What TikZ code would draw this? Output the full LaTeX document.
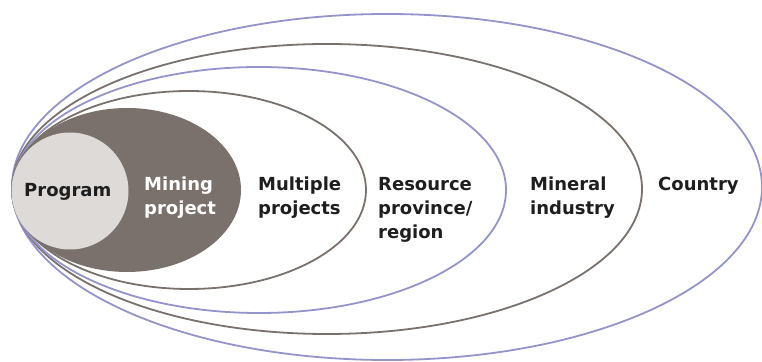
\documentclass[tikz,border=0pt]{standalone}
\usepackage{fontspec}
\setmainfont{DejaVu Sans}
\usetikzlibrary{shapes.geometric}
\definecolor{lblue}{RGB}{148,148,204}
\definecolor{mbrown}{RGB}{122,113,108}
\definecolor{lgrey}{RGB}{221,218,215}
\definecolor{tblack}{RGB}{30,30,30}
\tikzset{
  ring/.style={ellipse, draw, line width=1.8pt, inner sep=0pt},
  bluering/.style={ring, draw=lblue},
  brownring/.style={ring, draw=mbrown},
  lbl/.style={anchor=base west, align=left, font=\bfseries\fontsize{18}{24}\selectfont, text=tblack, inner sep=0pt},
}
\begin{document}
\begin{tikzpicture}[x=1pt,y=1pt]
\useasboundingbox (0,0) rectangle (762,361);
% outer rings
\node[bluering, minimum width=750, minimum height=346] (country) at (387,174) {};
\node[brownring, minimum width=630, minimum height=290] (mineral) at (327,172) {};
\node[bluering, minimum width=494, minimum height=246] (resource) at (259,171) {};
\node[brownring, minimum width=354, minimum height=198] (multiple) at (189,171) {};
\node[ellipse, fill=mbrown, minimum width=228, minimum height=164, inner sep=0pt] (mining) at (127,171) {};
\node[circle, fill=lgrey, minimum size=117, inner sep=0pt] (program) at (70,170) {};
% labels (base anchor = baseline of last line)
\node[lbl] (tprogram) at (24,164) {Program};
\node[lbl, text=white] (tmining) at (144,146.5) {Mining\\project};
\node[lbl] (tmultiple) at (258,146.5) {Multiple\\projects};
\node[lbl] (tresource) at (378,122.5) {Resource\\province/\\region};
\node[lbl] (tmineral) at (530,146.5) {Mineral\\industry};
\node[lbl] (tcountry) at (658,170.5) {Country};
\end{tikzpicture}
\end{document}
